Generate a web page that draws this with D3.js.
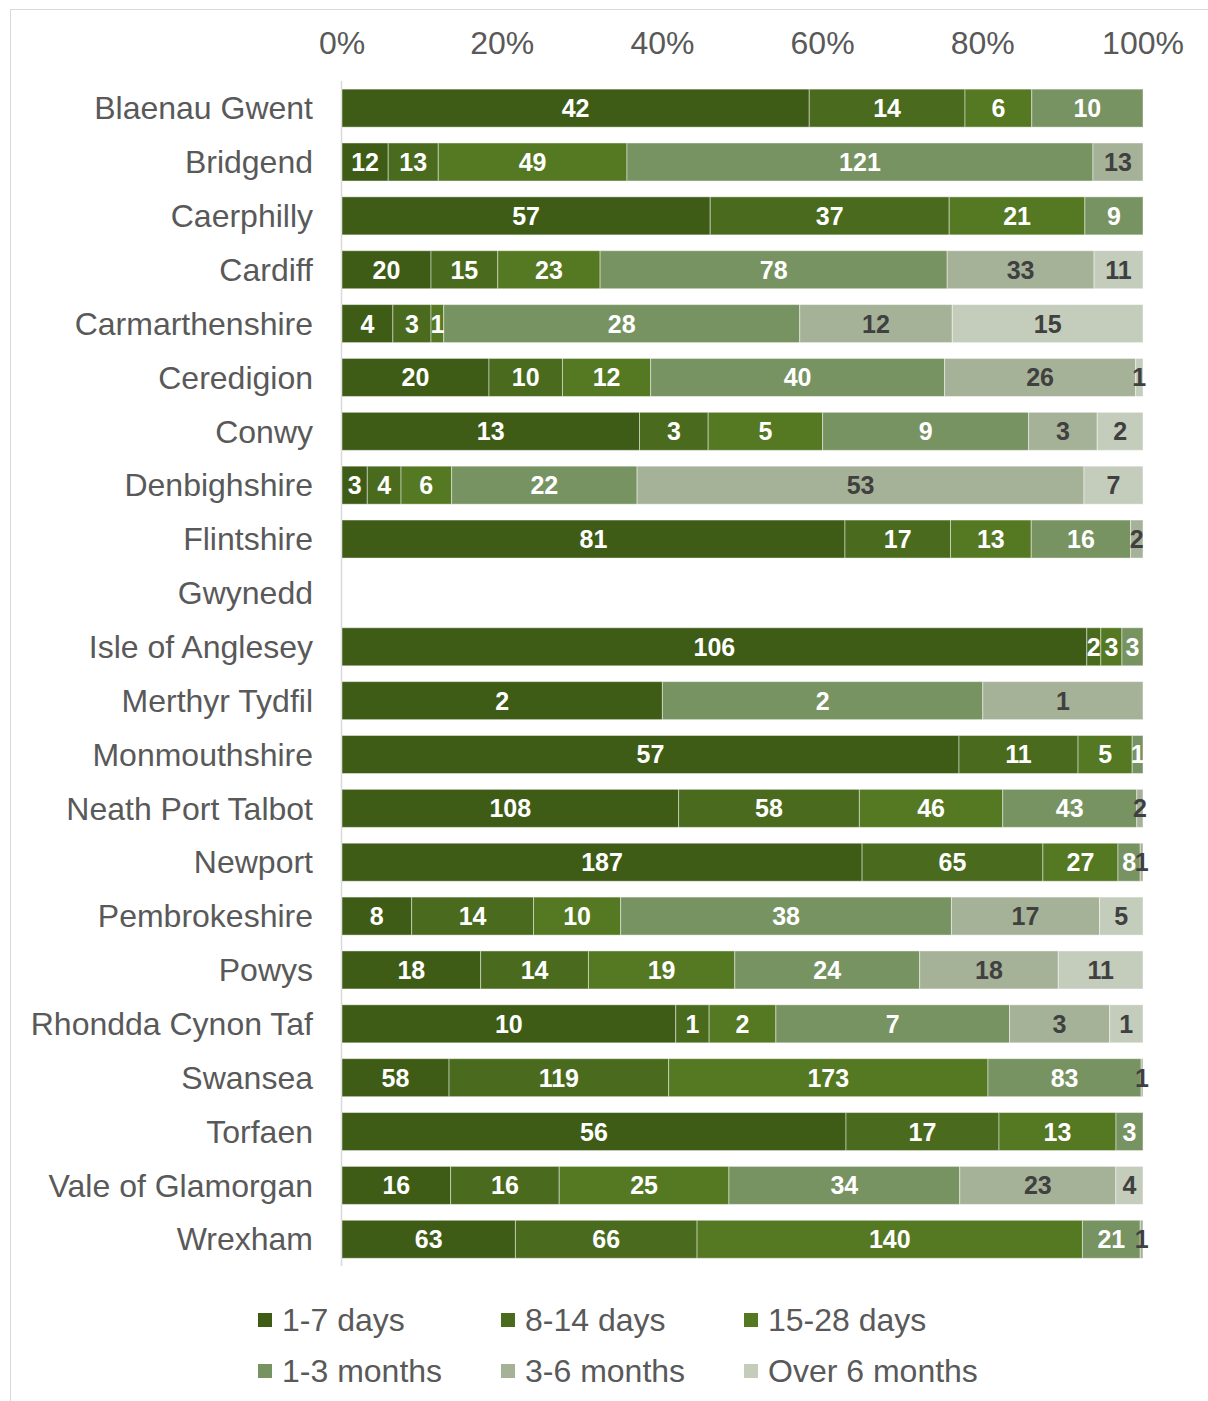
<!DOCTYPE html>
<html>
<head>
<meta charset="utf-8">
<script src="https://cdn.jsdelivr.net/npm/d3@7"></script>
<style>
  body { margin: 0; background: #fff; }
  svg text { font-family: "Liberation Sans", Arial, sans-serif; }
</style>
</head>
<body>
<div id="chart"></div>
<script>
let categories = ['Blaenau Gwent', 'Bridgend', 'Caerphilly', 'Cardiff', 'Carmarthenshire',
    'Ceredigion', 'Conwy', 'Denbighshire', 'Flintshire', 'Gwynedd', 'Isle of Anglesey',
    'Merthyr Tydfil', 'Monmouthshire', 'Neath Port Talbot', 'Newport', 'Pembrokeshire',
    'Powys', 'Rhondda Cynon Taf', 'Swansea', 'Torfaen', 'Vale of Glamorgan', 'Wrexham'];

let seriesNames = ['1-7 days', '8-14 days', '15-28 days', '1-3 months', '3-6 months', 'Over 6 months'];

let days1to7 =   [42, 12, 57, 20, 4, 20, 13, 3, 81, 0, 106, 2, 57, 108, 187, 8, 18, 10, 58, 56, 16, 63];
let days8to14 =  [14, 13, 37, 15, 3, 10, 3, 4, 17, 0, 2, 0, 11, 58, 65, 14, 14, 1, 119, 17, 16, 66];
let days15to28 = [6, 49, 21, 23, 1, 12, 5, 6, 13, 0, 3, 0, 5, 46, 27, 10, 19, 2, 173, 13, 25, 140];
let months1to3 = [10, 121, 9, 78, 28, 40, 9, 22, 16, 0, 3, 2, 1, 43, 8, 38, 24, 7, 83, 3, 34, 21];
let months3to6 = [0, 13, 0, 33, 12, 26, 3, 53, 2, 0, 0, 1, 0, 2, 1, 17, 18, 3, 1, 0, 23, 1];
let over6months = [0, 0, 0, 11, 15, 1, 2, 7, 0, 0, 0, 0, 0, 0, 0, 5, 11, 1, 0, 0, 4, 0];

let xTicks = [0, 0.2, 0.4, 0.6, 0.8, 1];

let colors = ['#3e5c16', '#4a6b1e', '#557822', '#789362', '#a5b298', '#c4ccbc'];
let labelColors = ['#fff', '#fff', '#fff', '#fff', '#404040', '#404040'];

let seriesValues = [days1to7, days8to14, days15to28, months1to3, months3to6, over6months];

let rows = categories.map((c, i) => {
    let row = {name: c};
    seriesNames.forEach((s, j) => row[s] = seriesValues[j][i]);
    return row;
});

let width = 1208,
    height = 1401;

let svg = d3.select('#chart').append('svg')
    .attr('width', width)
    .attr('height', height);

// outer frame
svg.append('rect')
    .attr('x', 10.5)
    .attr('y', 9.5)
    .attr('width', 1220)
    .attr('height', 1420)
    .attr('fill', 'none')
    .attr('stroke', '#d9d9d9');

let xScale = d3.scaleLinear()
    .domain([0, 1])
    .range([342, 1143]);

let yScale = d3.scaleBand()
    .domain(categories)
    .range([81.2, 1266.2])
    .paddingInner(0.294)
    .paddingOuter(0.147);

let stacked = d3.stack()
    .keys(seriesNames)
    .offset(d3.stackOffsetExpand)(rows);

// tick labels on top
svg.append('g')
    .selectAll('text')
    .data(xTicks)
    .join('text')
    .attr('x', d => xScale(d))
    .attr('y', 43)
    .attr('dy', '0.35em')
    .attr('text-anchor', 'middle')
    .attr('font-size', 32)
    .attr('fill', '#595959')
    .text(d3.format('.0%'));

// category axis line
svg.append('line')
    .attr('x1', 341.5)
    .attr('x2', 341.5)
    .attr('y1', 81)
    .attr('y2', 1266)
    .attr('stroke', '#d9d9d9')
    .attr('stroke-width', 1.5);

svg.append('g')
    .selectAll('text')
    .data(categories)
    .join('text')
    .attr('x', 313)
    .attr('y', d => yScale(d) + yScale.bandwidth() / 2)
    .attr('dy', '0.35em')
    .attr('text-anchor', 'end')
    .attr('font-size', 32)
    .attr('fill', '#595959')
    .text(d => d);

let layer_g = svg.append('g')
    .selectAll('g')
    .data(stacked)
    .join('g')
    .attr('fill', (d, i) => colors[i]);

layer_g.selectAll('rect')
    .data(d => d.filter(p => p.data[d.key] > 0))
    .join('rect')
    .attr('x', d => xScale(d[0]))
    .attr('y', d => yScale(d.data.name))
    .attr('width', d => xScale(d[1]) - xScale(d[0]))
    .attr('height', yScale.bandwidth())
    .attr('stroke', '#fff')
    .attr('stroke-opacity', 0.45)
    .attr('stroke-width', 1);

let label_g = svg.append('g')
    .selectAll('g')
    .data(stacked)
    .join('g')
    .attr('fill', (d, i) => labelColors[i]);

label_g.selectAll('text')
    .data(d => d.filter(p => p.data[d.key] > 0).map(p => ({p: p, v: p.data[d.key]})))
    .join('text')
    .attr('x', d => (xScale(d.p[0]) + xScale(d.p[1])) / 2)
    .attr('y', d => yScale(d.p.data.name) + yScale.bandwidth() / 2)
    .attr('dy', '0.36em')
    .attr('text-anchor', 'middle')
    .attr('font-size', 25)
    .attr('font-weight', 'bold')
    .text(d => d.v);

// legend
let legendX = [258, 501, 744],
    legendY = [1320, 1371];

let legend_g = svg.append('g')
    .selectAll('g')
    .data(seriesNames)
    .join('g')
    .attr('transform', (d, i) => `translate(${legendX[i % 3]}, ${legendY[Math.floor(i / 3)]})`);

legend_g.append('rect')
    .attr('x', 0)
    .attr('y', -7)
    .attr('width', 14)
    .attr('height', 14)
    .attr('fill', (d, i) => colors[i]);

legend_g.append('text')
    .attr('x', 24)
    .attr('dy', '0.35em')
    .attr('font-size', 32)
    .attr('fill', '#595959')
    .text(d => d);
</script>
</body>
</html>
